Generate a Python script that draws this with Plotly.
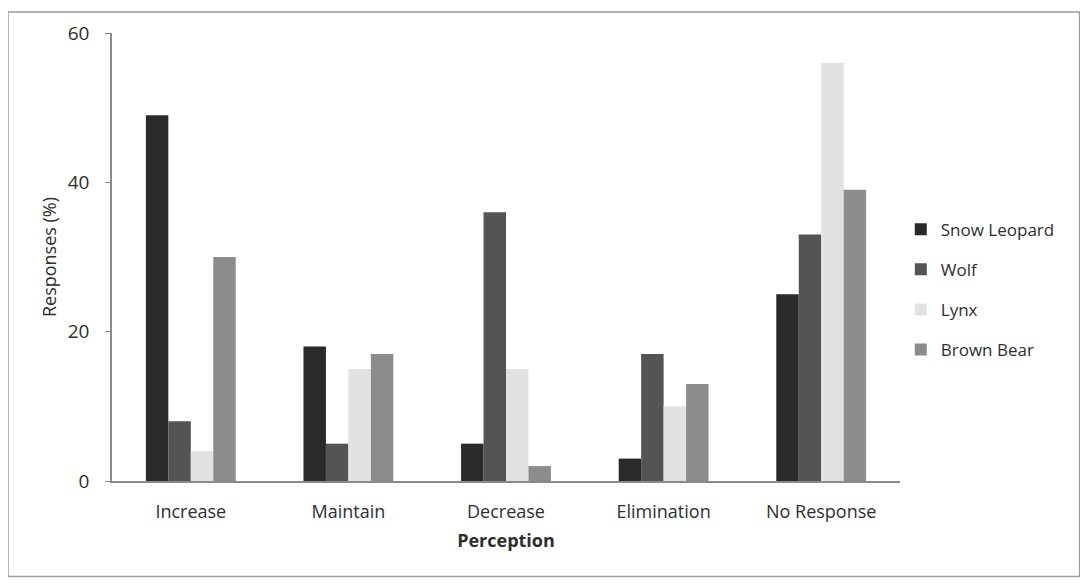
import plotly.graph_objects as go

categories = ["Increase", "Maintain", "Decrease", "Elimination", "No Response"]
series_names = ["Snow Leopard", "Wolf", "Lynx", "Brown Bear"]
snow_leopard = [49, 18, 5, 3, 25]
wolf = [8, 5, 36, 17, 33]
lynx = [4, 15, 15, 10, 56]
brown_bear = [30, 17, 2, 13, 39]
y_ticks = [0, 20, 40, 60]

colors = ["#2a2a2a", "#545454", "#e2e2e2", "#8c8c8c"]
values = [snow_leopard, wolf, lynx, brown_bear]

fig = go.Figure()
for i, (name, vals) in enumerate(zip(series_names, values)):
    fig.add_trace(go.Bar(
        x=categories, y=vals, name=name,
        marker=dict(color=colors[i], line=dict(width=0)),
        legendgroup=name,
    ))

font = "Open Sans, Liberation Sans, sans-serif"
txt = "#2e2e2e"
fig.update_layout(
    width=1080, height=576,
    margin=dict(l=104, r=188, t=23, b=103),
    paper_bgcolor="white", plot_bgcolor="white",
    barmode="group", bargap=0.43, bargroupgap=0,
    font=dict(family=font, size=18, color=txt),
    showlegend=True,
    legend=dict(x=1.001, y=0.427, xanchor="left", yanchor="middle",
                font=dict(size=17, color=txt),
                traceorder="grouped", tracegroupgap=15,
                itemwidth=30),
    xaxis=dict(
        showline=True, linecolor="#8a8a8a", linewidth=1.5,
        ticks="", tickfont=dict(size=18, color=txt), ticklabelstandoff=14,
        title=dict(text="<b>Perception</b>", font=dict(size=18, color=txt), standoff=12),
    ),
    yaxis=dict(
        range=[0, 60], tickvals=y_ticks, showgrid=False, zeroline=False,
        showline=True, linecolor="#8a8a8a", linewidth=1.5,
        ticks="outside", ticklen=5, tickcolor="#8a8a8a",
        tickfont=dict(size=19, color=txt), ticklabelstandoff=12,
        title=dict(text="Responses (%)", font=dict(size=18, color=txt), standoff=6),
    ),
    shapes=[dict(type="rect", xref="paper", yref="paper",
                 x0=-0.132, x1=1.228, y0=-0.213, y1=1.0467,
                 line=dict(color="#9a9a9a", width=1.5), layer="below")],
)

fig.write_html("out.html")
